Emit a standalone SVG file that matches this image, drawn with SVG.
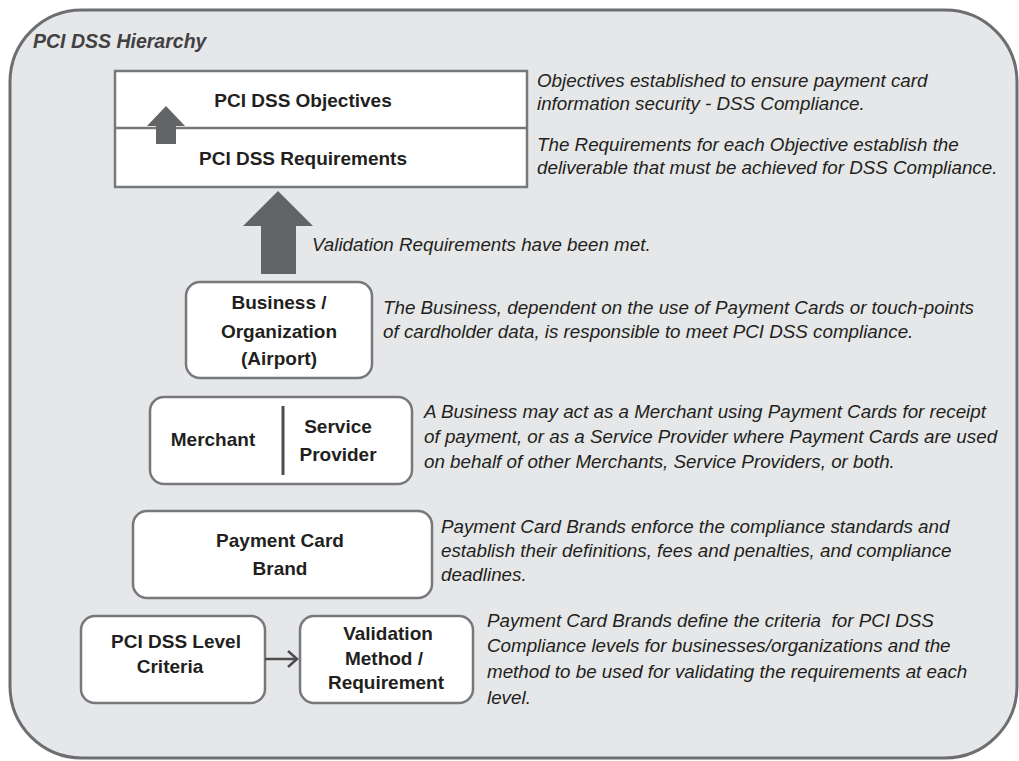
<svg xmlns="http://www.w3.org/2000/svg" width="1019" height="761" viewBox="0 0 1019 761">
<style>
.bg{fill:#e6e7e8;stroke:#6d6e71;stroke-width:3}
.box{fill:#ffffff;stroke:#77787b;stroke-width:2.5}
.lbl{font-family:"Liberation Sans",Arial,sans-serif;font-weight:bold;font-size:19px;fill:#231f20;text-anchor:middle}
.desc{font-family:"Liberation Sans",Arial,sans-serif;font-style:italic;font-size:18.8px;fill:#231f20}
.ttl{font-family:"Liberation Sans",Arial,sans-serif;font-style:italic;font-weight:bold;font-size:19.5px;fill:#414042}
.fat{fill:#636466}
.conn{stroke:#4d4d4f;stroke-width:2.5;fill:none}
</style>
<rect class="bg" x="10" y="10" width="1007" height="748" rx="72" ry="72"/>
<text class="ttl" x="33" y="48">PCI DSS Hierarchy</text>

<g id="objectives">
<rect class="box" x="115" y="71" width="412" height="116"/>
<line x1="115" y1="128" x2="527" y2="128" stroke="#77787b" stroke-width="2.5"/>
<text class="lbl" x="303" y="107">PCI DSS Objectives</text>
<text class="lbl" x="303" y="165">PCI DSS Requirements</text>
</g>
<text class="desc" x="537" y="87">Objectives established to ensure payment card</text>
<text class="desc" x="537" y="110">information security - DSS Compliance.</text>
<text class="desc" x="537" y="151">The Requirements for each Objective establish the</text>
<text class="desc" x="537" y="174">deliverable that must be achieved for DSS Compliance.</text>

<g id="business">
<rect class="box" x="186" y="282" width="186" height="96" rx="14"/>
<text class="lbl" x="279" y="309">Business /</text>
<text class="lbl" x="279" y="338">Organization</text>
<text class="lbl" x="279" y="365">(Airport)</text>
</g>
<text class="desc" x="312" y="251">Validation Requirements have been met.</text>
<text class="desc" x="383" y="314">The Business, dependent on the use of Payment Cards or touch-points</text>
<text class="desc" x="383" y="338">of cardholder data, is responsible to meet PCI DSS compliance.</text>

<g id="merchant">
<rect class="box" x="150" y="397" width="262" height="87" rx="14"/>
<line x1="283" y1="406" x2="283" y2="475" stroke="#4d4d4f" stroke-width="3"/>
<text class="lbl" x="213" y="446">Merchant</text>
<text class="lbl" x="338" y="433">Service</text>
<text class="lbl" x="338" y="461">Provider</text>
</g>
<text class="desc" x="424" y="418">A Business may act as a Merchant using Payment Cards for receipt</text>
<text class="desc" x="424" y="443">of payment, or as a Service Provider where Payment Cards are used</text>
<text class="desc" x="424" y="468">on behalf of other Merchants, Service Providers, or both.</text>

<g id="brand">
<rect class="box" x="133" y="511" width="299" height="87" rx="14"/>
<text class="lbl" x="280" y="547">Payment Card</text>
<text class="lbl" x="280" y="575">Brand</text>
</g>
<text class="desc" x="441" y="533">Payment Card Brands enforce the compliance standards and</text>
<text class="desc" x="441" y="557">establish their definitions, fees and penalties, and compliance</text>
<text class="desc" x="441" y="581">deadlines.</text>

<g id="level">
<rect class="box" x="81" y="616" width="184" height="87" rx="14"/>
<text class="lbl" x="176" y="648">PCI DSS Level</text>
<text class="lbl" x="170" y="673">Criteria</text>
</g>

<g id="validation">
<rect class="box" x="300" y="616" width="173" height="87" rx="14"/>
<text class="lbl" x="388" y="640">Validation</text>
<text class="lbl" x="384" y="665">Method /</text>
<text class="lbl" x="386" y="689">Requirement</text>
</g>
<text class="desc" x="487" y="627" style="white-space:pre">Payment Card Brands define the criteria  for PCI DSS</text>
<text class="desc" x="487" y="652">Compliance levels for businesses/organizations and the</text>
<text class="desc" x="487" y="678">method to be used for validating the requirements at each</text>
<text class="desc" x="487" y="704">level.</text>

<g id="connectors">
<polygon class="fat" points="166,106 185,126 176,126 176,144 156,144 156,126 147,126"/>
<polygon class="fat" points="278,191 313,226 296,226 296,274 261,274 261,226 243,226"/>
<line class="conn" x1="265" y1="659" x2="296" y2="659"/>
<polyline class="conn" points="288,651 297,659 288,667"/>
</g>
</svg>
